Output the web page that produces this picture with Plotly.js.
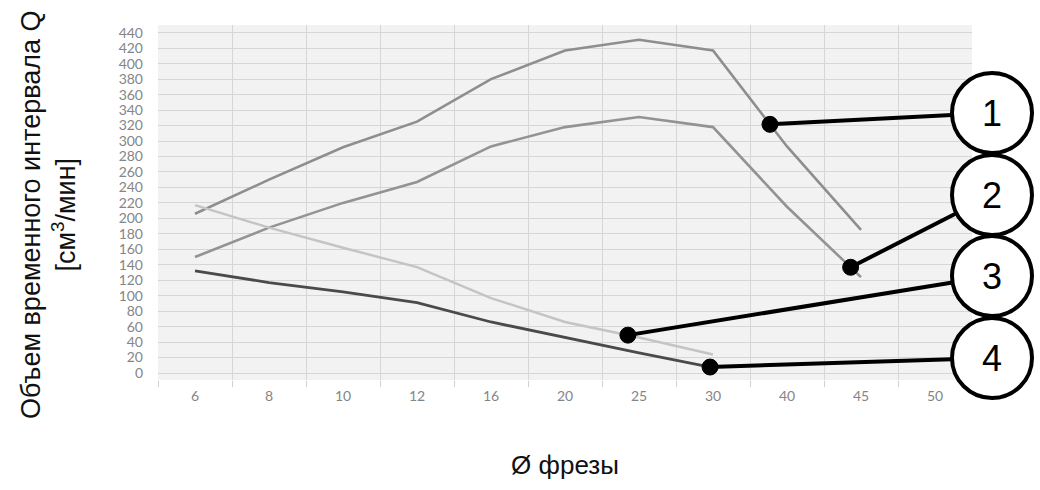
<!DOCTYPE html>
<html>
<head>
<meta charset="utf-8">
<script src="https://cdn.plot.ly/plotly-3.0.1.min.js"></script>
<style>html,body{margin:0;padding:0;background:#fff;}#chart{width:1040px;height:490px;}</style>
</head>
<body>
<div id="chart"></div>
<script>
// Categories (cutter diameter)
var categories = ["6","8","10","12","16","20","25","30","40","45","50"];
// Series values, Q [cm3/min]
var series1 = [206, 250, 292, 325, 380, 417, 431, 417, 293, 185];
var series2 = [150, 188, 220, 247, 293, 318, 331, 318, 215, 124];
var series3 = [217, 188, 162, 137, 97, 66, 46, 24];
var series4 = [132, 117, 105, 91, 66, 46, 26, 7];
var seriesLabels = ["1", "2", "3", "4"];
// Fractional category position where each callout touches its line
var calloutAt = [7.77, 8.86, 5.85, 6.96];
var yTicks = [0,20,40,60,80,100,120,140,160,180,200,220,240,260,280,300,320,340,360,380,400,420,440];
var xTitle = "Ø фрезы";
var yTitle = "Объем временного интервала Q<br>[см<sup>3</sup>/мин]";

var allSeries = [series1, series2, series3, series4];
var colors = ["#8e8e8e", "#939393", "#c4c4c4", "#4a4a4a"];
var widths = [2.6, 2.6, 2.4, 2.8];

var traces = allSeries.map(function (s, i) {
  return {
    type: "scatter", mode: "lines",
    x: categories.slice(0, s.length), y: s,
    line: {color: colors[i], width: widths[i]},
    hoverinfo: "x+y", showlegend: false
  };
});

var M = {l: 158, r: 68, t: 25, b: 110};
var W = 1040, H = 490;
var pw = W - M.l - M.r, ph = H - M.t - M.b;
var yMin = -9, yMax = 450;
function interp(s, f) {
  var i = Math.floor(f), t = f - i;
  if (i >= s.length - 1) return s[s.length - 1];
  return s[i] + t * (s[i + 1] - s[i]);
}
function pxX(idx) { return M.l + (idx + 0.5) / categories.length * pw; }
function pxY(v) { return M.t + ph - (v - yMin) / (yMax - yMin) * ph; }
function toPX(px) { return (px - M.l) / pw; }
function toPY(py) { return (M.t + ph - py) / ph; }

var circleCenters = [[992, 113], [992, 195], [992, 276], [992, 358]];
var R = 40;
var shapes = [], annotations = [];
allSeries.forEach(function (s, i) {
  var f = calloutAt[i];
  var v = interp(s, f);
  var dx = pxX(f), dy = pxY(v);
  var c = circleCenters[i];
  var vx = c[0] - dx, vy = c[1] - dy, L = Math.sqrt(vx * vx + vy * vy);
  var ex = c[0] - R * vx / L, ey = c[1] - R * vy / L;
  shapes.push({type: "line", xref: "paper", yref: "paper",
    x0: toPX(dx), y0: toPY(dy), x1: toPX(ex), y1: toPY(ey),
    line: {color: "#000", width: 4}});
  shapes.push({type: "circle", xref: "x", yref: "y",
    xsizemode: "pixel", ysizemode: "pixel", xanchor: f, yanchor: v,
    x0: -8, x1: 8, y0: -8, y1: 8,
    fillcolor: "#000", line: {color: "#000", width: 1}});
  shapes.push({type: "circle", xref: "paper", yref: "paper",
    x0: toPX(c[0] - R), x1: toPX(c[0] + R), y0: toPY(c[1] + R), y1: toPY(c[1] - R),
    fillcolor: "#fff", line: {color: "#000", width: 4}});
  annotations.push({xref: "paper", yref: "paper", x: toPX(c[0]), y: toPY(c[1]),
    text: seriesLabels[i], showarrow: false,
    font: {family: "Liberation Sans, Arial, sans-serif", size: 36, color: "#000"},
    xanchor: "center", yanchor: "middle"});
});

// y-axis title as rotated annotation for exact placement
annotations.push({xref: "paper", yref: "paper", x: toPX(49), y: toPY(215),
  text: yTitle, showarrow: false, textangle: -90,
  font: {family: "Liberation Sans, Arial, sans-serif", size: 27, color: "#111"},
  xanchor: "center", yanchor: "middle", align: "center"});

var layout = {
  width: W, height: H,
  margin: M,
  paper_bgcolor: "#ffffff",
  plot_bgcolor: "#f2f2f2",
  showlegend: false,
  xaxis: {
    type: "category", categoryorder: "array", categoryarray: categories,
    range: [-0.5, categories.length - 0.5],
    tickson: "boundaries", ticks: "outside", ticklen: 6, tickcolor: "#cfcfcf",
    showgrid: true, gridcolor: "#d6d6d6", gridwidth: 1,
    showline: false, zeroline: false,
    ticklabelstandoff: 6,
    tickfont: {family: "Lato, Open Sans, sans-serif", size: 14, color: "#858585"},
    title: {text: xTitle, standoff: 52,
      font: {family: "Liberation Sans, Arial, sans-serif", size: 26, color: "#111"}}
  },
  yaxis: {
    range: [yMin, yMax], tickmode: "array", tickvals: yTicks,
    ticktext: yTicks.map(String),
    showgrid: true, gridcolor: "#d6d6d6", gridwidth: 1,
    zeroline: false, showline: false, ticks: "",
    ticklabelstandoff: 14,
    tickfont: {family: "Lato, Open Sans, sans-serif", size: 14, color: "#858585"}
  },
  shapes: shapes,
  annotations: annotations
};

Plotly.newPlot("chart", traces, layout, {displayModeBar: false, staticPlot: true});
</script>
</body>
</html>
